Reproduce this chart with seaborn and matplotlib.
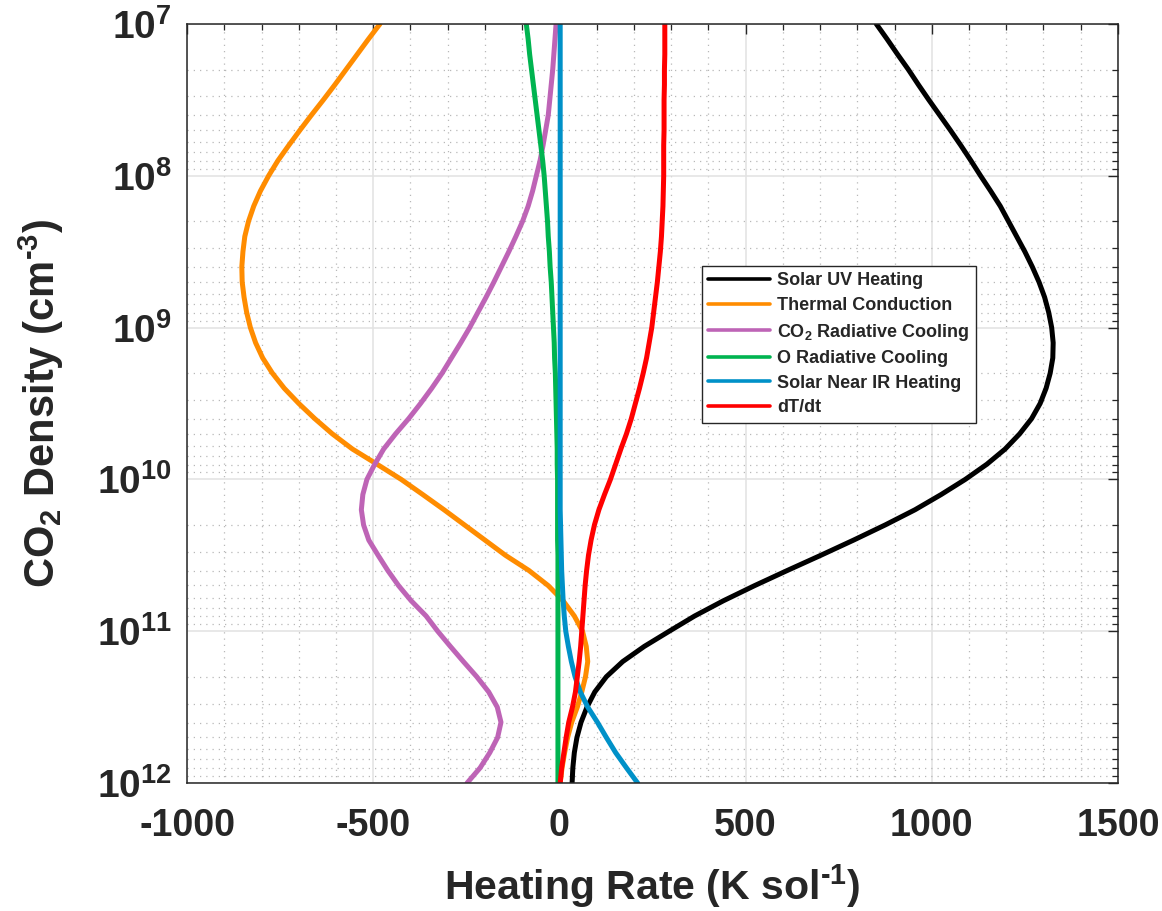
import numpy as np
import pandas as pd
import matplotlib
matplotlib.use("Agg")
import matplotlib.pyplot as plt
from matplotlib.ticker import MultipleLocator, FixedLocator, LogLocator, NullFormatter
import seaborn as sns

# ── Data ──────────────────────────────────────────────────────────────────────
# log10 of CO2 density (cm^-3), shared by all curves
LOG_DENSITY = [7.0, 7.1, 7.2, 7.3, 7.4, 7.5, 7.6, 7.7, 7.8, 7.9,
               8.0, 8.1, 8.2, 8.3, 8.4, 8.5, 8.6, 8.7, 8.8, 8.9,
               9.0, 9.1, 9.2, 9.3, 9.4, 9.5, 9.6, 9.7, 9.8, 9.9,
               10.0, 10.1, 10.2, 10.3, 10.4, 10.5, 10.6, 10.7, 10.8, 10.9,
               11.0, 11.1, 11.2, 11.3, 11.4, 11.5, 11.6, 11.7, 11.8, 11.9,
               12.0]

SOLAR_UV = [851, 880, 908, 937, 964, 992, 1021, 1050, 1078, 1105,
            1131, 1158, 1184, 1206, 1228, 1250, 1270, 1288, 1303, 1314,
            1322, 1326, 1325, 1318, 1307, 1291, 1268, 1236, 1197, 1148,
            1090, 1025, 955, 875, 790, 702, 612, 524, 440, 363,
            295, 228, 170, 126, 95, 74, 58, 47, 40, 36,
            34]
THERMAL_COND = [-482, -513, -543, -573, -603, -634, -666, -697, -727, -756,
                -781, -803, -821, -835, -845, -850, -853, -852, -847, -840,
                -830, -816, -797, -771, -739, -700, -657, -610, -556, -490,
                -425, -367, -310, -255, -200, -145, -82, -30, 10, 40,
                62, 72, 76, 70, 60, 48, 33, 22, 14, 7,
                2]
CO2_COOLING = [-9, -12, -15, -18, -22, -26, -30, -37, -44, -52,
               -62, -72, -84, -99, -117, -136, -156, -176, -197, -219,
               -241, -265, -290, -315, -343, -373, -405, -440, -472, -496,
               -517, -528, -532, -526, -512, -487, -461, -432, -398, -358,
               -327, -293, -258, -222, -190, -167, -157, -166, -187, -213,
               -248]
O_COOLING = [-89, -84, -80, -75, -70, -65, -60, -55, -50, -45,
             -41, -38, -35, -32, -30, -27, -25, -22, -20, -18,
             -16, -14, -13, -11, -10, -9, -8, -7, -6, -6,
             -5, -5, -5, -5, -5, -4, -4, -4, -4, -4,
             -4, -4, -4, -4, -4, -4, -4, -4, -4, -4,
             -4]
NEAR_IR = [2, 2, 2, 2, 2, 2, 2, 2, 2, 2,
           2, 2, 2, 2, 2, 2, 2, 2, 2, 2,
           2, 2, 2, 2, 2, 2, 2, 2, 2, 2,
           2, 2, 2, 3, 4, 5, 6, 8, 10, 13,
           17, 24, 32, 42, 56, 76, 102, 126, 151, 180,
           210]
DT_DT = [283, 283, 283, 282, 282, 281, 281, 281, 280, 280,
         280, 279, 278, 276, 274, 271, 267, 263, 258, 253,
         248, 241, 234, 225, 215, 204, 193, 180, 165, 151,
         137, 121, 106, 94, 85, 78, 73, 69, 66, 63,
         60, 57, 53, 48, 43, 35, 25, 18, 12, 6,
         2]

LABELS = ["Solar UV Heating", "Thermal Conduction",
          r"CO$_\mathbf{2}$ Radiative Cooling", "O Radiative Cooling",
          "Solar Near IR Heating", "dT/dt"]
COLORS = ["#000000", "#FF8C00", "#BE64B6", "#00B450", "#0091C8", "#FF0000"]

X_TICKS = [-1000, -500, 0, 500, 1000, 1500]
Y_EXPONENTS = [7, 8, 9, 10, 11, 12]

TEXT_COLOR = "#262626"
HYPHEN = "\u2010"

# ── Long-form table ───────────────────────────────────────────────────────────
density = 10.0 ** np.array(LOG_DENSITY)
series = [SOLAR_UV, THERMAL_COND, CO2_COOLING, O_COOLING, NEAR_IR, DT_DT]
df = pd.concat(
    [pd.DataFrame({"rate": vals, "density": density, "term": lab})
     for lab, vals in zip(LABELS, series)],
    ignore_index=True,
)

# ── Style ─────────────────────────────────────────────────────────────────────
sns.set_theme(style="white")
plt.rcParams["font.family"] = ["Liberation Sans", "DejaVu Sans"]
plt.rcParams["font.weight"] = "bold"
plt.rcParams["mathtext.fontset"] = "custom"
plt.rcParams["mathtext.rm"] = "Liberation Sans:bold"
plt.rcParams["mathtext.bf"] = "Liberation Sans:bold"
plt.rcParams["mathtext.it"] = "Liberation Sans:bold"

fig = plt.figure(figsize=(11.62, 9.11), dpi=100)
ax = fig.add_axes([0.161, 0.1405, 0.8011, 0.8332])

sns.lineplot(data=df, x="rate", y="density", hue="term", hue_order=LABELS,
             palette=dict(zip(LABELS, COLORS)), orient="y", estimator=None,
             sort=True, linewidth=3.6, ax=ax, legend=False)

# ── Axes ──────────────────────────────────────────────────────────────────────
ax.set_yscale("log")
ax.set_ylim(1e12, 1e7)
ax.set_xlim(-1000, 1500)

ax.xaxis.set_major_locator(FixedLocator(X_TICKS))
ax.xaxis.set_minor_locator(MultipleLocator(100))
ax.set_xticklabels([str(t) for t in X_TICKS])

ax.yaxis.set_major_locator(FixedLocator([10.0 ** e for e in Y_EXPONENTS]))
ax.yaxis.set_minor_locator(LogLocator(base=10, subs=np.arange(2, 10), numticks=20))
ax.yaxis.set_minor_formatter(NullFormatter())
ax.set_yticklabels([r"$\mathbf{10^{%d}}$" % e for e in Y_EXPONENTS])

ax.grid(which="major", color="#e2e2e2", linewidth=1.1, linestyle="-")
ax.grid(which="minor", color="#b8b8b8", linewidth=0.9, linestyle=(0, (1, 4)))
ax.set_axisbelow(True)

ax.tick_params(which="both", direction="in", top=True, right=True,
               color=TEXT_COLOR, labelcolor=TEXT_COLOR)
ax.tick_params(which="major", length=7, width=1.0)
ax.tick_params(which="minor", length=4.5, width=0.9)
ax.tick_params(axis="x", which="major", pad=18, labelsize=27)
ax.tick_params(axis="y", which="major", pad=11, labelsize=28)
for lab in ax.get_xticklabels() + ax.get_yticklabels():
    lab.set_fontweight("bold")

for sp in ax.spines.values():
    sp.set_color(TEXT_COLOR)
    sp.set_linewidth(1.1)

ax.set_xlabel(r"Heating Rate (K sol$^\mathbf{%s1}$)" % HYPHEN, fontsize=29.5,
              fontweight="bold", color=TEXT_COLOR, labelpad=13)
ax.set_ylabel(r"CO$_\mathbf{2}$ Density (cm$^\mathbf{%s3}$)" % HYPHEN, fontsize=30,
              fontweight="bold", color=TEXT_COLOR, labelpad=22)

# ── Legend ────────────────────────────────────────────────────────────────────
handles = [plt.Line2D([], [], color=c, linewidth=2.6) for c in COLORS]
leg = ax.legend(handles, LABELS, loc="upper left", bbox_to_anchor=(0.553, 0.681),
                frameon=True, fancybox=False, framealpha=1.0, edgecolor=TEXT_COLOR,
                prop={"weight": "bold", "size": 13}, handlelength=3.4,
                handletextpad=0.4, labelspacing=0.42, borderpad=0.35,
                borderaxespad=0)
leg.get_frame().set_linewidth(1.0)

fig.savefig("out.png", dpi=100)
